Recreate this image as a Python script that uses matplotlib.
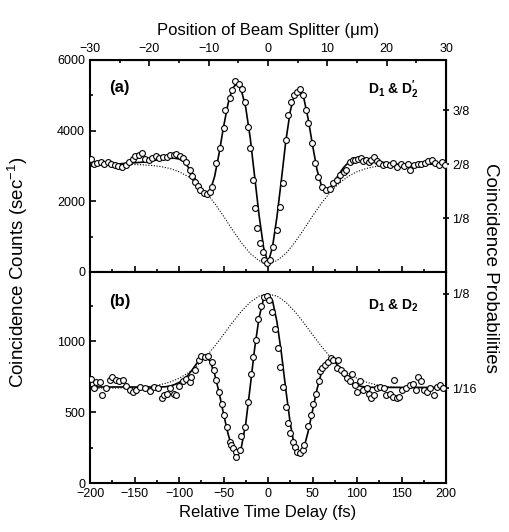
import numpy as np
import matplotlib.pyplot as plt
from matplotlib.ticker import MultipleLocator, FixedLocator, FixedFormatter

plt.rcParams['font.family'] = ['Liberation Sans', 'DejaVu Sans']
plt.rcParams['mathtext.fontset'] = 'custom'
plt.rcParams['mathtext.rm'] = 'Liberation Sans'
plt.rcParams['mathtext.bf'] = 'Liberation Sans:bold'

# ---- panel (a): D1 & D2' ----
a_x = [-199, -196, -192, -188, -184, -180, -176, -172, -168, -164, -160, -156, -152, -149,
       -145, -142, -138, -134, -130, -126, -122, -118, -114, -110, -106, -103, -99, -95,
       -92, -88, -85, -82, -79, -76, -72, -68, -65, -63, -58, -54, -50, -48, -43, -40,
       -37, -33, -29, -26, -22, -20, -17, -15, -12, -9, -6, -4, -1, 2, 6, 10, 13, 17,
       20, 23, 26, 29, 33, 36, 39, 43, 45, 49, 53, 56, 61, 65, 70, 73, 77, 81, 85, 88,
       92, 95, 98, 101, 104, 107, 110, 113, 116, 119, 122, 125, 129, 133, 137, 141, 145,
       149, 153, 157, 160, 164, 168, 172, 176, 180, 184, 188, 192, 196, 199]
a_y = [3200, 3050, 3080, 3100, 3050, 3120, 3060, 3030, 3000, 2980, 3040, 3110, 3200, 3280,
       3300, 3370, 3200, 3180, 3230, 3280, 3220, 3260, 3250, 3300, 3320, 3330, 3270, 3220,
       3100, 2890, 2720, 2560, 2440, 2320, 2250, 2200, 2260, 2410, 3080, 3500, 4070, 4580,
       4920, 5150, 5415, 5330, 5180, 4820, 4110, 3500, 2600, 1810, 1250, 820, 575, 340, 250,
       340, 720, 1190, 1850, 2510, 3740, 4440, 4820, 5010, 5100, 5190, 5010, 4580, 4210,
       3650, 3080, 2700, 2410, 2320, 2360, 2510, 2600, 2740, 2820, 2890, 3120, 3180, 3170,
       3200, 3220, 3150, 3170, 3100, 3180, 3260, 3150, 3080, 3030, 3060, 3020, 3080, 2980,
       3050, 3000, 3060, 2890, 3030, 3060, 3050, 3080, 3130, 3170, 3080, 3040, 3100, 3030]

a_fit_x = list(range(-200, 205, 5))
a_fit_y = [3050, 3050, 3050, 3050, 3050, 3055, 3060, 3065, 3075, 3085, 3090, 3100, 3110,
           3130, 3150, 3170, 3190, 3210, 3220, 3220, 3200, 3130, 2980, 2780, 2550, 2330,
           2210, 2300, 2700, 3350, 4100, 4750, 5200, 5330, 5150, 4650, 3800, 2700, 1600,
           700, 250, 700, 1550, 2600, 3700, 4550, 5050, 5180, 4950, 4350, 3600, 2900, 2450,
           2320, 2380, 2580, 2780, 2960, 3090, 3170, 3210, 3220, 3210, 3190, 3160, 3130,
           3100, 3080, 3060, 3055, 3050, 3050, 3050, 3050, 3050, 3050, 3050, 3050, 3050,
           3050, 3050]

a_env_x = list(range(-200, 205, 10))
a_env_y = [3050, 3050, 3050, 3050, 3050, 3042, 3032, 3014, 2982, 2927, 2838, 2705, 2514,
           2260, 1945, 1583, 1197, 830, 524, 320, 250, 320, 524, 830, 1197, 1583, 1945,
           2260, 2514, 2705, 2838, 2927, 2982, 3014, 3032, 3042, 3050, 3050, 3050, 3050, 3050]

# ---- panel (b): D1 & D2 ----
b_x = [-199, -196, -193, -189, -186, -182, -178, -175, -171, -167, -163, -160, -155, -152,
       -148, -144, -138, -133, -128, -124, -119, -117, -114, -110, -106, -103, -100, -96,
       -92, -88, -86, -82, -78, -75, -71, -67, -63, -61, -58, -55, -52, -49, -46, -43,
       -42, -39, -36, -36, -32, -30, -26, -22, -19.5, -16.5, -13.5, -11, -8, -4.5, -1.5,
       1.5, 5, 8, 11.6, 14, 17, 20, 23, 25, 28, 30, 33, 36, 39, 41, 45, 48, 51, 54, 57,
       58, 61, 64, 67, 70.5, 73.4, 77, 79, 81.7, 85, 89, 92, 94, 98, 100, 103, 107, 110.7,
       113.6, 116, 119, 122, 126, 130, 133, 137, 140, 142, 144.6, 147.5, 151, 155, 159,
       163, 166.6, 169, 172, 175.7, 179, 182, 186, 189.6, 193, 197]
b_y = [732, 669, 711, 716, 620, 671, 730, 748, 725, 720, 725, 683, 655, 645, 655, 678, 671,
       650, 678, 669, 598, 620, 630, 671, 630, 620, 683, 720, 735, 716, 748, 800, 866, 894,
       890, 894, 855, 800, 725, 645, 561, 479, 396, 291, 268, 244, 222, 185, 233, 331, 396,
       573, 772, 890, 1007, 1159, 1253, 1312, 1324, 1290, 1206, 1089, 955, 820, 678, 537,
       425, 350, 291, 256, 222, 215, 233, 268, 401, 479, 561, 630, 718, 788, 810, 835, 855,
       880, 866, 810, 866, 800, 776, 741, 718, 772, 695, 645, 718, 655, 669, 630, 601, 620,
       669, 676, 669, 620, 630, 610, 725, 601, 606, 655, 669, 695, 702, 655, 748, 720, 655,
       645, 669, 620, 678, 695, 669]

b_fit_x = list(range(-200, 205, 5))
b_fit_y = [678, 678, 678, 678, 678, 678, 678, 678, 678, 678, 678, 678, 678, 678, 678, 678,
           678, 680, 685, 695, 710, 730, 760, 800, 845, 880, 890, 860, 770, 640, 490, 350,
           240, 195, 250, 420, 680, 950, 1170, 1300, 1335, 1290, 1140, 920, 660, 420, 250,
           195, 240, 360, 510, 660, 780, 855, 880, 860, 810, 760, 725, 700, 690, 682, 678,
           676, 675, 675, 675, 675, 675, 675, 675, 675, 675, 675, 675, 675, 675, 675, 675,
           675, 675]

b_env_x = list(range(-200, 205, 10))
b_env_y = [670, 670, 670, 670, 672, 674, 678, 684, 696, 713, 739, 776, 826, 889, 965, 1048,
           1133, 1212, 1277, 1320, 1335, 1320, 1277, 1212, 1133, 1048, 965, 889, 826, 776,
           739, 713, 696, 684, 678, 674, 672, 670, 670, 670, 670]

a_prob_ticks = [1/8, 2/8, 3/8]
a_prob_labels = ['1/8', '2/8', '3/8']
b_prob_ticks = [1/16, 1/8]
b_prob_labels = ['1/16', '1/8']
a_scale = 12225.0   # counts per unit probability, panel (a)
b_scale = 10700.0   # counts per unit probability, panel (b)

fig = plt.figure(figsize=(5.1, 5.32), dpi=100)
W, H = 510.0, 532.0
ax1 = fig.add_axes([90/W, 1 - 272/H, 356/W, 212/H])
ax2 = fig.add_axes([90/W, 1 - 483/H, 356/W, 211/H])

mk = dict(marker='o', ms=4.2, mfc='white', mec='black', mew=0.8, ls='none', zorder=4)

for ax, x, y, fx, fy, ex, ey in [(ax1, a_x, a_y, a_fit_x, a_fit_y, a_env_x, a_env_y),
                                 (ax2, b_x, b_y, b_fit_x, b_fit_y, b_env_x, b_env_y)]:
    ax.plot(ex, ey, ls=(0, (1, 1.5)), color='black', lw=0.8, zorder=2)
    ax.plot(fx, fy, color='black', lw=1.2, zorder=3)
    ax.plot(x, y, **mk)
    ax.set_xlim(-200, 200)
    for s in ax.spines.values():
        s.set_linewidth(1.5)
    ax.tick_params(direction='in', which='both', labelsize=9, width=1.2, top=False, right=False)
    ax.tick_params(which='major', length=4)
    ax.tick_params(which='minor', length=2.5)
    ax.xaxis.set_major_locator(MultipleLocator(50))
    ax.xaxis.set_minor_locator(MultipleLocator(25))

ax1.set_ylim(0, 6000)
ax1.yaxis.set_major_locator(MultipleLocator(2000))
ax1.yaxis.set_minor_locator(MultipleLocator(1000))
ax1.tick_params(axis='x', labelbottom=False)

ax2.set_ylim(0, 1490)
ax2.yaxis.set_major_locator(MultipleLocator(500))
ax2.yaxis.set_minor_locator(MultipleLocator(250))
ax2.set_xlabel('Relative Time Delay (fs)', fontsize=12, labelpad=4)

# top axis: beam splitter position
top = ax1.secondary_xaxis('top', functions=(lambda t: t * 0.15, lambda p: p / 0.15))
top.xaxis.set_major_locator(MultipleLocator(10))
top.xaxis.set_minor_locator(MultipleLocator(5))
top.tick_params(direction='in', which='both', labelsize=9, width=1.2)
top.tick_params(which='major', length=4)
top.tick_params(which='minor', length=2.5)
top.set_xlabel('Position of Beam Splitter (\u03bcm)', fontsize=12, labelpad=6)

# right axes: coincidence probabilities
for ax, sc, tks, lbs in [(ax1, a_scale, a_prob_ticks, a_prob_labels),
                         (ax2, b_scale, b_prob_ticks, b_prob_labels)]:
    r = ax.secondary_yaxis('right', functions=(lambda c, s=sc: c / s, lambda p, s=sc: p * s))
    r.yaxis.set_major_locator(FixedLocator(tks))
    r.yaxis.set_major_formatter(FixedFormatter(lbs))
    r.tick_params(direction='inout', labelsize=9, width=1.2, length=5, pad=2)

fig.text(0.035, (1 - 272/H), 'Coincidence Counts (sec$^{-1}$)', rotation=90,
         fontsize=13.5, ha='center', va='center')
fig.text(0.962, (1 - 268/H), 'Coincidence Probabilities', rotation=270,
         fontsize=13.5, ha='center', va='center')

ax1.text(0.055, 0.85, '(a)', transform=ax1.transAxes, fontsize=12, fontweight='bold')
ax2.text(0.055, 0.84, '(b)', transform=ax2.transAxes, fontsize=12, fontweight='bold')
ax1.text(0.78, 0.84, r'$\mathbf{D_1}$ & $\mathbf{D_2^{\prime}}$', transform=ax1.transAxes,
         fontsize=10, fontweight='bold')
ax2.text(0.78, 0.82, r'$\mathbf{D_1}$ & $\mathbf{D_2}$', transform=ax2.transAxes,
         fontsize=10, fontweight='bold')

fig.savefig('out.png', dpi=100)
